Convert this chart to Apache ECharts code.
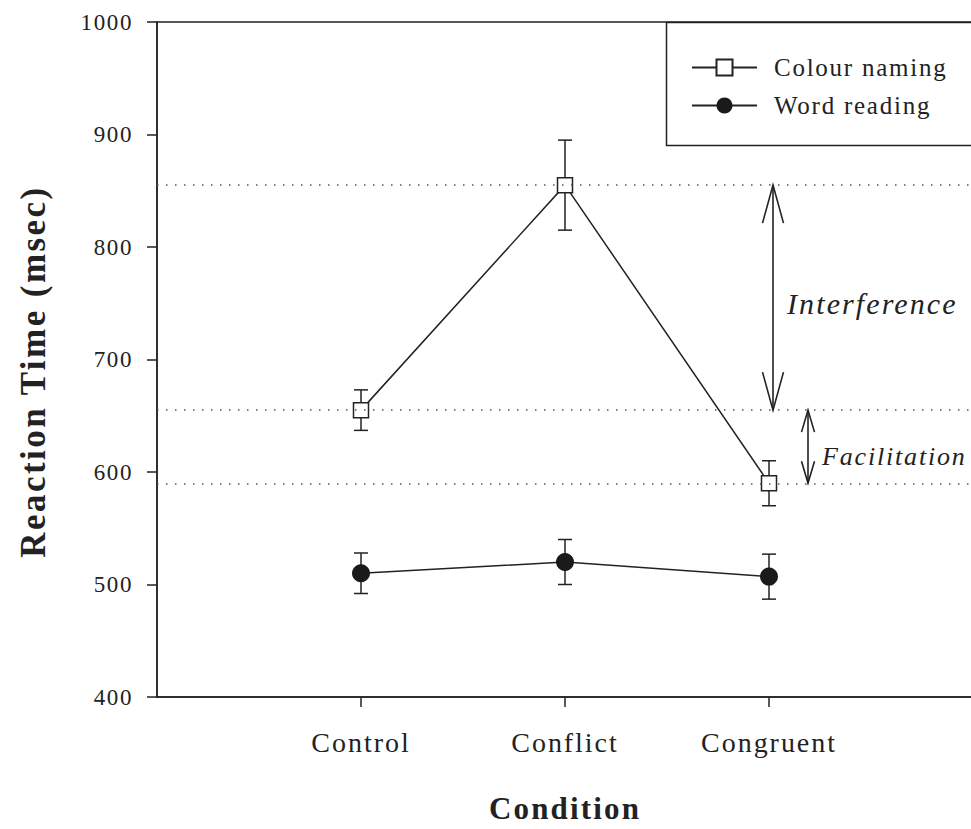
<!DOCTYPE html>
<html>
<head>
<meta charset="utf-8">
<script src="https://cdn.jsdelivr.net/npm/echarts@6/dist/echarts.min.js"></script>
<style>
    html, body {
        margin: 0;
        padding: 0;
        background: #fff;
    }
    #stroopChart {
        width: 971px;
        height: 829px;
    }
    /* the original figure's type is set wide */
    #stroopChart text {
        letter-spacing: 0.07em;
    }
</style>
</head>
<body>
<div id="stroopChart"></div>
<script>
// conditions on the x axis (placed at 1, 2, 3)
const conditions = ['Control', 'Conflict', 'Congruent']
const seriesNames = ['Colour naming', 'Word reading']

// mean reaction times (msec) and error bar half-widths
const colourMean = [655, 855, 590]
const colourErr = [18, 40, 20]
const wordMean = [510, 520, 507]
const wordErr = [18, 20, 20]

const yTicks = [400, 500, 600, 700, 800, 900, 1000]

// annotated differences on the colour naming curve
const annotationLabels = ['Interference', 'Facilitation']
const annotationRanges = [
    [colourMean[1], colourMean[0]],
    [colourMean[0], colourMean[2]]
]

const ink = '#222'
const fontFamily = 'Liberation Serif, serif'

function toPoints(values) {
    return values.map((v, i) => [i + 1, v])
}

function toErrorBars(means, errs) {
    return means.map((m, i) => [i + 1, m - errs[i], m + errs[i]])
}

function renderErrorBar(params, api) {
    let x = api.value(0)
    let top = api.coord([x, api.value(2)])
    let bot = api.coord([x, api.value(1)])
    let half = 7
    let style = { stroke: ink, lineWidth: 1.5 }
    return {
        type: 'group',
        children: [
            { type: 'line', shape: { x1: top[0], y1: top[1], x2: bot[0], y2: bot[1] }, style: style },
            { type: 'line', shape: { x1: top[0] - half, y1: top[1], x2: top[0] + half, y2: top[1] }, style: style },
            { type: 'line', shape: { x1: bot[0] - half, y1: bot[1], x2: bot[0] + half, y2: bot[1] }, style: style }
        ]
    }
}

// arrow layout, per annotation (pixels)
const arrowLayout = [
    { dx: 4, headW: 21, headH: 38, fontSize: 30, textDx: 14, textDy: 6 },
    { dx: 39, headW: 13, headH: 22, fontSize: 26, textDx: 14, textDy: 10 }
]

function renderArrow(params, api) {
    let lay = arrowLayout[params.dataIndex]
    let p1 = api.coord([api.value(0), api.value(1)])
    let p2 = api.coord([api.value(0), api.value(2)])
    let x = p1[0] + lay.dx
    let yTop = Math.min(p1[1], p2[1])
    let yBot = Math.max(p1[1], p2[1])
    let hw = lay.headW / 2
    let style = { stroke: ink, lineWidth: 1.6, fill: null }
    return {
        type: 'group',
        children: [
            { type: 'line', shape: { x1: x, y1: yTop, x2: x, y2: yBot }, style: style },
            { type: 'polyline', shape: { points: [[x - hw, yTop + lay.headH], [x, yTop], [x + hw, yTop + lay.headH]] }, style: style },
            { type: 'polyline', shape: { points: [[x - hw, yBot - lay.headH], [x, yBot], [x + hw, yBot - lay.headH]] }, style: style },
            {
                type: 'text',
                x: x + lay.textDx,
                y: (yTop + yBot) / 2 + lay.textDy,
                style: {
                    text: annotationLabels[params.dataIndex],
                    fontFamily: fontFamily,
                    fontStyle: 'italic',
                    fontSize: lay.fontSize,
                    fill: ink,
                    align: 'left',
                    verticalAlign: 'middle'
                }
            }
        ]
    }
}

let stroopChart = echarts.init(document.getElementById('stroopChart'), null, { renderer: 'svg' })
let option = {
    animation: false,
    backgroundColor: '#fff',
    textStyle: {
        fontFamily: fontFamily,
        color: ink
    },
    grid: {
        left: 157,
        right: -2,
        top: 22,
        height: 675,
        outerBoundsMode: 'none',
        containLabel: false,
        show: true,
        borderColor: ink,
        borderWidth: 1.5,
        backgroundColor: 'transparent'
    },
    graphic: [
        {
            type: 'rect',
            z: 5,
            shape: { x: 666.5, y: 22.5, width: 400, height: 123 },
            style: { fill: '#fff', stroke: ink, lineWidth: 1.5 }
        }
    ],
    legend: {
        z: 10,
        orient: 'vertical',
        left: 691,
        top: 55,
        padding: 0,
        itemWidth: 65,
        itemHeight: 20,
        itemGap: 13,
        data: seriesNames,
        textStyle: {
            fontFamily: fontFamily,
            fontSize: 25,
            color: ink,
            padding: [0, 0, 0, 12]
        }
    },
    xAxis: {
        type: 'value',
        min: 0,
        max: 4,
        interval: 1,
        name: 'Condition',
        nameLocation: 'middle',
        nameGap: 96,
        nameTextStyle: {
            fontFamily: fontFamily,
            fontSize: 31,
            fontWeight: 'bold',
            color: ink
        },
        axisLine: { lineStyle: { color: ink, width: 1.5 } },
        axisTick: {
            customValues: [1, 2, 3],
            inside: false,
            length: 10,
            lineStyle: { color: ink, width: 1.5 }
        },
        axisLabel: {
            customValues: [1, 2, 3],
            margin: 31,
            fontSize: 28,
            color: ink,
            fontFamily: fontFamily,
            formatter: function(v) {
                return conditions[v - 1] || ''
            }
        },
        splitLine: { show: false }
    },
    yAxis: {
        type: 'value',
        min: yTicks[0],
        max: yTicks[yTicks.length - 1],
        interval: 100,
        name: 'Reaction Time (msec)',
        nameLocation: 'middle',
        nameGap: 106,
        nameTextStyle: {
            fontFamily: fontFamily,
            fontSize: 35,
            fontWeight: 'bold',
            color: ink,
            padding: [0, 24, 0, 0]
        },
        axisLine: { show: true, lineStyle: { color: ink, width: 1.5 } },
        axisTick: {
            show: true,
            inside: false,
            length: 10,
            lineStyle: { color: ink, width: 1.5 }
        },
        axisLabel: {
            margin: 24,
            fontSize: 23,
            color: ink,
            fontFamily: fontFamily,
            formatter: function(v) {
                return String(v)
            }
        },
        splitLine: { show: false }
    },
    series: [
        {
            name: seriesNames[0],
            type: 'line',
            z: 3,
            data: toPoints(colourMean),
            symbol: 'rect',
            symbolSize: 15,
            lineStyle: { color: ink, width: 1.5 },
            itemStyle: { color: '#fff', borderColor: ink, borderWidth: 1.5 },
            markLine: {
                silent: true,
                symbol: 'none',
                label: { show: false },
                lineStyle: { color: '#555', width: 1.5, type: [1.5, 7.5] },
                data: colourMean.map(v => ({ yAxis: v }))
            }
        },
        {
            name: seriesNames[1],
            type: 'line',
            z: 3,
            data: toPoints(wordMean),
            symbol: 'circle',
            symbolSize: 18,
            lineStyle: { color: ink, width: 1.5 },
            itemStyle: { color: '#1a1a1a' }
        },
        {
            name: 'colourErr',
            type: 'custom',
            z: 1,
            renderItem: renderErrorBar,
            encode: { x: 0, y: [1, 2] },
            data: toErrorBars(colourMean, colourErr)
        },
        {
            name: 'wordErr',
            type: 'custom',
            z: 1,
            renderItem: renderErrorBar,
            encode: { x: 0, y: [1, 2] },
            data: toErrorBars(wordMean, wordErr)
        },
        {
            name: 'annotations',
            type: 'custom',
            z: 4,
            clip: false,
            renderItem: renderArrow,
            encode: { x: 0, y: [1, 2] },
            data: annotationRanges.map(r => [3, r[0], r[1]])
        }
    ]
}
stroopChart.setOption(option)
window.onresize = function() {
    stroopChart.resize()
}
</script>
</body>
</html>
